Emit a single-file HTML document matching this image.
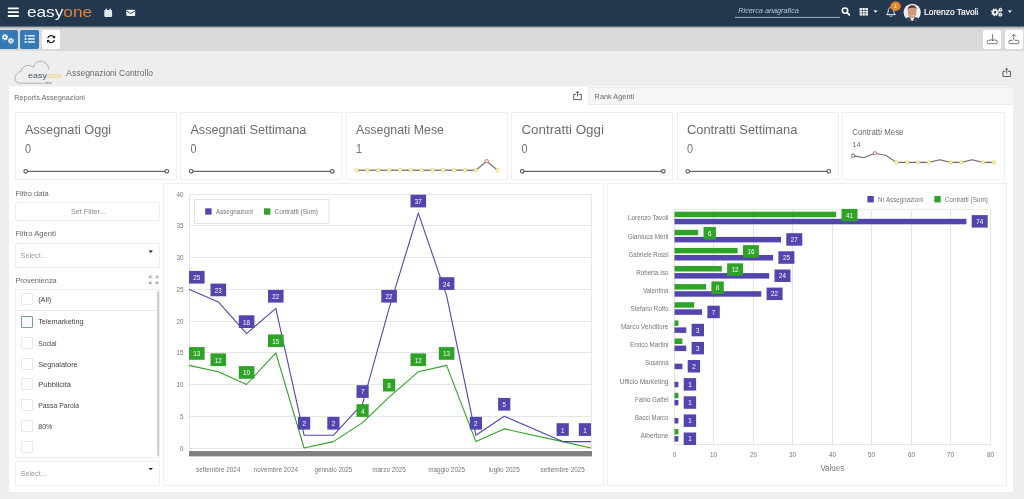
<!DOCTYPE html><html lang="it"><head><meta charset="utf-8"><title>easyone - Assegnazioni Controllo</title><style>
*{box-sizing:border-box;margin:0;padding:0}
html,body{width:1024px;height:499px;overflow:hidden;background:#eeeeee;font-family:"Liberation Sans",sans-serif;color:#666}
.abs{position:absolute}
#nav{position:absolute;left:0;top:0;width:1024px;height:29px;background:linear-gradient(#23384f 0,#23384f 26px,rgba(30,45,68,.55) 26.6px,rgba(30,45,68,.18) 27.6px,rgba(30,45,68,0) 28.8px);z-index:1}
#tool{position:absolute;left:0;top:26px;width:1024px;height:24.5px;background:#dadada}
.tb{position:absolute;top:30px;height:18.5px;border-radius:2px}
#panel{position:absolute;left:9px;top:87px;width:1004px;height:405px;background:#fff}
.card{position:absolute;background:#fff;border:1px solid #efefef}
.box{position:absolute;border:1px solid #ededed;border-radius:2px;background:#fff}
.cb{position:absolute;left:21px;width:12px;height:12px;border:1px solid #e8e8e8;border-radius:1px;background:#fff}
svg{overflow:visible}
svg text{font-family:"Liberation Sans",sans-serif;white-space:pre}
#ov{position:absolute;z-index:2;left:0;top:0;width:1024px;height:499px;pointer-events:none}
</style></head><body>
<div id="nav"></div>
<div id="tool"></div>
<div class="tb" style="left:0;width:17.5px;background:#337ab7;border-radius:0 2px 2px 0"></div>
<div class="tb" style="left:20px;width:19px;background:#337ab7"></div>
<div class="tb" style="left:42px;width:18px;background:#fff"></div>
<div class="tb" style="left:983px;width:18.2px;background:#fff"></div>
<div class="tb" style="left:1004.6px;width:18px;background:#fff"></div>
<div id="panel"></div><div class="abs" style="left:9px;top:86px;width:1004px;height:1px;background:rgba(255,255,255,.45)"></div>
<div class="abs" style="left:588px;top:87px;width:425px;height:18px;background:#f6f6f6;border:1px solid #ececec;border-right:none"></div>
<div class="card" style="left:15px;top:112px;width:162px;height:68px"></div>
<div class="card" style="left:180px;top:112px;width:162px;height:68px"></div>
<div class="card" style="left:346px;top:112px;width:162px;height:68px"></div>
<div class="card" style="left:511px;top:112px;width:162px;height:68px"></div>
<div class="card" style="left:677px;top:112px;width:162px;height:68px"></div>
<div class="card" style="left:842px;top:112px;width:163px;height:68px"></div>
<div class="box" style="left:15px;top:202px;width:145px;height:19px"></div>
<div class="box" style="left:15px;top:243.2px;width:145px;height:24.4px"></div>
<div class="box" style="left:15px;top:289px;width:145px;height:169px;border-radius:1px"></div>
<div class="abs" style="left:16px;top:309.6px;width:143px;height:1px;background:#e8e8e8"></div>
<div class="abs" style="left:156.6px;top:290.5px;width:2.2px;height:165px;background:#d0d0d0;border-radius:1px"></div>
<div class="cb" style="top:293.4px"></div>
<div class="cb" style="top:315.7px;border-color:#7d9aa3;background:#f6fafb"></div>
<div class="cb" style="top:336.9px"></div>
<div class="cb" style="top:357.9px"></div>
<div class="cb" style="top:378.4px"></div>
<div class="cb" style="top:399.4px"></div>
<div class="cb" style="top:420.4px"></div>
<div class="cb" style="top:441px"></div>
<div class="box" style="left:15px;top:461px;width:145px;height:25px;border-radius:1px"></div>
<div class="card" style="left:163px;top:183px;width:441px;height:303px"></div>
<div class="card" style="left:607px;top:183px;width:400px;height:303px"></div>
<svg id="ov" width="1024" height="499" viewBox="0 0 1024 499"><g fill="#fff"><rect x="7.8" y="7.4" width="11" height="1.8" rx="0.5"/><rect x="7.8" y="11.3" width="11" height="1.8" rx="0.5"/><rect x="7.8" y="15.1" width="11" height="1.8" rx="0.5"/></g>
<text x="26.9" y="16.5" font-size="14.8" fill="#f4f6f8" textLength="65.3" lengthAdjust="spacingAndGlyphs">easy<tspan fill="#e0813a">one</tspan></text>
<g fill="#dfeaec"><rect x="104.3" y="10" width="7.8" height="6.9" rx="0.8"/><rect x="105.6" y="8.6" width="1.4" height="2.2" rx="0.4"/><rect x="109.4" y="8.6" width="1.4" height="2.2" rx="0.4"/></g>
<rect x="126.3" y="9.7" width="8.9" height="6.2" rx="0.8" fill="#f2f5f7"/><path d="M126.5 10.9 L130.75 13.6 L135 10.9" stroke="#22384f" stroke-width="0.9" fill="none"/>
<rect x="735" y="16.9" width="105" height="0.9" fill="#a9b8c6"/>
<text x="738.30" y="12.90" font-size="7.8" fill="#b9c6d2" font-style="italic" textLength="60.50" lengthAdjust="spacingAndGlyphs">Ricerca anagrafica</text>
<circle cx="845" cy="10.6" r="2.7" stroke="#fff" stroke-width="1.5" fill="none"/><path d="M847.1 12.7 L849.3 14.9" stroke="#fff" stroke-width="1.8" stroke-linecap="round"/>
<rect x="859.6" y="8" width="8.4" height="7.5" rx="0.5" fill="#fff"/><path d="M862.4 8V15.5M865.2 8V15.5M859.6 10.5H868M859.6 13H868" stroke="#22384f" stroke-width="0.6"/>
<path d="M873.5 10.6H877.7L875.6 12.7Z" fill="#fff"/>
<path d="M891 7.6 C889 7.6 888.2 9.1 888.2 10.9 C888.2 12.9 887.5 13.8 886.6 14.6 H895.4 C894.5 13.8 893.8 12.9 893.8 10.9 C893.8 9.1 893 7.6 891 7.6Z" stroke="#fff" stroke-width="0.9" fill="none" stroke-linejoin="round"/><path d="M890 15.7 C890.2 16.7 891.8 16.7 892 15.7" stroke="#fff" stroke-width="0.9" fill="none"/>
<ellipse cx="895.6" cy="6.2" rx="5.2" ry="4.7" fill="#e8862e"/>
<text x="895.40" y="8.40" font-size="6.2" fill="#fbe9d6" text-anchor="middle">1</text>
<defs><clipPath id="av"><circle cx="912.2" cy="12.3" r="8.6"/></clipPath></defs><circle cx="912.2" cy="12.3" r="8.6" fill="#f1eff2"/><g clip-path="url(#av)"><path d="M903 22 V19.6 C905 18.2 907.4 17.6 909 17.2 H915.4 C917 17.6 919.4 18.2 921.4 19.6 V22Z" fill="#2e3442"/><path d="M909.6 17.4 L912.2 21.5 L914.8 17.4Z" fill="#f4f4f6"/><ellipse cx="912.1" cy="12.4" rx="4.3" ry="5.9" fill="#cf9a7e"/><path d="M907.7 11.2 C906.8 3.4 917.6 3.4 916.6 11.2 C916.2 8.4 915.4 7.8 912.2 7.8 C909 7.8 908.2 8.4 907.7 11.2Z" fill="#58342a"/><path d="M910.4 15.6 Q912.2 16.6 914 15.6" stroke="#f0e6df" stroke-width="0.7" fill="none"/></g>
<text x="924.10" y="15.40" font-size="9.0" fill="#fff" textLength="54.30" lengthAdjust="spacingAndGlyphs" stroke="#fff" stroke-width="0.2">Lorenzo Tavoli</text>
<g stroke="#fff" fill="none"><circle cx="995" cy="12.3" r="2.1" stroke-width="1.6"/><circle cx="995" cy="12.3" r="3.2" stroke-width="1.3" stroke-dasharray="1.45 1.06"/><circle cx="1000.4" cy="9.9" r="1.1" stroke-width="1.1"/><circle cx="1000.4" cy="9.9" r="1.8" stroke-width="0.8" stroke-dasharray="0.8 0.61"/><circle cx="1000.4" cy="14.7" r="1.1" stroke-width="1.1"/><circle cx="1000.4" cy="14.7" r="1.8" stroke-width="0.8" stroke-dasharray="0.8 0.61"/></g>
<path d="M1007.8 10.6H1012L1009.9 12.7Z" fill="#fff"/>
<g stroke="#fff" fill="none"><circle cx="5" cy="37.2" r="1.6" stroke-width="1.4"/><circle cx="5" cy="37.2" r="2.6" stroke-width="1.1" stroke-dasharray="1.16 0.88"/><circle cx="10.9" cy="40.8" r="1.5" stroke-width="1.3"/><circle cx="10.9" cy="40.8" r="2.45" stroke-width="1.1" stroke-dasharray="1.1 0.82"/></g>
<g fill="#fff"><rect x="24.7" y="34.9" width="1.8" height="1.8"/><rect x="27.8" y="35.1" width="7" height="1.4"/><rect x="24.7" y="38" width="1.8" height="1.8"/><rect x="27.8" y="38.2" width="7" height="1.4"/><rect x="24.7" y="41.1" width="1.8" height="1.8"/><rect x="27.8" y="41.3" width="7" height="1.4"/></g>
<g transform="translate(46.6,34.6)"><path d="M1.2 3.6 A3.4 3.4 0 0 1 7.4 2.6" stroke="#222" stroke-width="1.3" fill="none"/><path d="M7.8 5.4 A3.4 3.4 0 0 1 1.6 6.4" stroke="#222" stroke-width="1.3" fill="none"/><path d="M8.6 0.6 V3.6 H5.6Z" fill="#222"/><path d="M0.4 8.4 V5.4 H3.4Z" fill="#222"/></g>
<g stroke="#555" stroke-width="0.8" fill="none"><path d="M992.6 34.1V41M990.4 38.8L992.6 41L994.8 38.8"/><path d="M990.6 40.3H988.4Q987.3 40.3 987.3 41.4V42.6Q987.3 43.7 988.4 43.7H996.2Q997.3 43.7 997.3 42.6V41.4Q997.3 40.3 996.2 40.3H994.6"/></g>
<g stroke="#555" stroke-width="0.8" fill="none"><path d="M1013.8 40.4V34.2M1011.6 36.4L1013.8 34.2L1016 36.4"/><path d="M1012.6 40.3H1010Q1008.9 40.3 1008.9 41.4V42.6Q1008.9 43.7 1010 43.7H1017.7Q1018.8 43.7 1018.8 42.6V41.4Q1018.8 40.3 1017.7 40.3H1015"/></g>
<path d="M20.2 83.2 C15 83.2 14 78.6 15.8 75.4 C17 73.2 18.8 71.6 21 71.4 C21.4 68.2 25.6 64.6 29.6 65.6 C31.4 65.9 32.6 66.4 33.6 67.2 C34.2 62.8 38.8 60.6 42.2 61.4 C46.2 62.2 48.8 65.6 48.6 69.2" stroke="#9a9ea4" stroke-width="0.8" fill="none"/><path d="M20.2 83.2 H42.8" stroke="#9a9ea4" stroke-width="0.8"/>
<text x="28" y="77.5" font-size="7.6" fill="#42566b" textLength="34" lengthAdjust="spacingAndGlyphs">easy<tspan fill="#f3d46a">one</tspan></text>
<text x="44.60" y="83.80" font-size="3.2" fill="#666" textLength="7.20" lengthAdjust="spacingAndGlyphs">one</text>
<text x="66.30" y="76.00" font-size="9.3" fill="#6a6a6a" textLength="86.70" lengthAdjust="spacingAndGlyphs">Assegnazioni Controllo</text>
<g stroke="#555" stroke-width="0.95" fill="none" transform="translate(1002.4,67.9)"><path d="M3 3.4H0.5V8.6H8.1V3.4H5.6"/><path d="M4.3 5.6V0.4M2.9 1.8L4.3 0.4L5.7 1.8"/></g>
<text x="14.20" y="99.50" font-size="7.7" fill="#6a6a6a" textLength="70.70" lengthAdjust="spacingAndGlyphs">Reports Assegnazioni</text>
<g stroke="#555" stroke-width="0.95" fill="none" transform="translate(573.2,91)"><path d="M3 3.4H0.5V8.6H8.1V3.4H5.6"/><path d="M4.3 5.6V0.4M2.9 1.8L4.3 0.4L5.7 1.8"/></g>
<text x="594.60" y="98.90" font-size="7.7" fill="#6a6a6a" textLength="39.60" lengthAdjust="spacingAndGlyphs">Rank Agenti</text>
<text x="24.90" y="134.00" font-size="13.6" fill="#6c6c6c" textLength="86.30" lengthAdjust="spacingAndGlyphs">Assegnati Oggi</text>
<text x="25.00" y="152.90" font-size="12.2" fill="#727272" textLength="6.00" lengthAdjust="spacingAndGlyphs">0</text>
<path d="M25.7 171.3H166.8" stroke="#686868" stroke-width="1.2"/><circle cx="25.7" cy="171.3" r="1.8" fill="#fff" stroke="#555" stroke-width="1.1"/><circle cx="166.8" cy="171.3" r="1.8" fill="#fff" stroke="#555" stroke-width="1.1"/>
<text x="190.40" y="134.00" font-size="13.6" fill="#6c6c6c" textLength="116.00" lengthAdjust="spacingAndGlyphs">Assegnati Settimana</text>
<text x="190.50" y="152.90" font-size="12.2" fill="#727272" textLength="6.00" lengthAdjust="spacingAndGlyphs">0</text>
<path d="M191.2 171.3H332.3" stroke="#686868" stroke-width="1.2"/><circle cx="191.2" cy="171.3" r="1.8" fill="#fff" stroke="#555" stroke-width="1.1"/><circle cx="332.3" cy="171.3" r="1.8" fill="#fff" stroke="#555" stroke-width="1.1"/>
<text x="355.90" y="134.00" font-size="13.6" fill="#6c6c6c" textLength="88.10" lengthAdjust="spacingAndGlyphs">Assegnati Mese</text>
<text x="356.00" y="152.90" font-size="12.2" fill="#727272" textLength="6.00" lengthAdjust="spacingAndGlyphs">1</text>
<path d="M356.6 170.2 L367.4 170.2 L378.3 170.2 L389.1 170.2 L400.0 170.2 L410.8 170.2 L421.6 170.2 L432.5 170.2 L443.3 170.2 L454.2 170.2 L465.0 170.2 L475.8 170.2 L486.7 161.2 L497.5 170.2" stroke="#858585" stroke-width="1.4" fill="none"/><circle cx="356.6" cy="170.2" r="1.7" fill="#fffbe8" stroke="#e6c84f" stroke-width="0.8"/><circle cx="367.4" cy="170.2" r="1.7" fill="#fffbe8" stroke="#e6c84f" stroke-width="0.8"/><circle cx="378.3" cy="170.2" r="1.7" fill="#fffbe8" stroke="#e6c84f" stroke-width="0.8"/><circle cx="389.1" cy="170.2" r="1.7" fill="#fffbe8" stroke="#e6c84f" stroke-width="0.8"/><circle cx="400.0" cy="170.2" r="1.7" fill="#fffbe8" stroke="#e6c84f" stroke-width="0.8"/><circle cx="410.8" cy="170.2" r="1.7" fill="#fffbe8" stroke="#e6c84f" stroke-width="0.8"/><circle cx="421.6" cy="170.2" r="1.7" fill="#fffbe8" stroke="#e6c84f" stroke-width="0.8"/><circle cx="432.5" cy="170.2" r="1.7" fill="#fffbe8" stroke="#e6c84f" stroke-width="0.8"/><circle cx="443.3" cy="170.2" r="1.7" fill="#fffbe8" stroke="#e6c84f" stroke-width="0.8"/><circle cx="454.2" cy="170.2" r="1.7" fill="#fffbe8" stroke="#e6c84f" stroke-width="0.8"/><circle cx="465.0" cy="170.2" r="1.7" fill="#fffbe8" stroke="#e6c84f" stroke-width="0.8"/><circle cx="475.8" cy="170.2" r="1.7" fill="#fffbe8" stroke="#e6c84f" stroke-width="0.8"/><circle cx="486.7" cy="161.2" r="1.7" fill="#fffbe8" stroke="#d9534f" stroke-width="0.8"/><circle cx="497.5" cy="170.2" r="1.7" fill="#fffbe8" stroke="#e6c84f" stroke-width="0.8"/>
<text x="521.40" y="134.00" font-size="13.6" fill="#6c6c6c" textLength="82.50" lengthAdjust="spacingAndGlyphs">Contratti Oggi</text>
<text x="521.50" y="152.90" font-size="12.2" fill="#727272" textLength="6.00" lengthAdjust="spacingAndGlyphs">0</text>
<path d="M522.2 171.3H663.3" stroke="#686868" stroke-width="1.2"/><circle cx="522.2" cy="171.3" r="1.8" fill="#fff" stroke="#555" stroke-width="1.1"/><circle cx="663.3" cy="171.3" r="1.8" fill="#fff" stroke="#555" stroke-width="1.1"/>
<text x="686.90" y="134.00" font-size="13.6" fill="#6c6c6c" textLength="110.50" lengthAdjust="spacingAndGlyphs">Contratti Settimana</text>
<text x="687.00" y="152.90" font-size="12.2" fill="#727272" textLength="6.00" lengthAdjust="spacingAndGlyphs">0</text>
<path d="M687.7 171.3H828.8" stroke="#686868" stroke-width="1.2"/><circle cx="687.7" cy="171.3" r="1.8" fill="#fff" stroke="#555" stroke-width="1.1"/><circle cx="828.8" cy="171.3" r="1.8" fill="#fff" stroke="#555" stroke-width="1.1"/>
<text x="852.20" y="135.40" font-size="8.5" fill="#6a6a6a" textLength="51.30" lengthAdjust="spacingAndGlyphs">Contratti Mese</text>
<text x="852.40" y="146.90" font-size="7.8" fill="#6a6a6a" textLength="8.00" lengthAdjust="spacingAndGlyphs">14</text>
<path d="M853.1 155.6 L863.9 157.8 L874.8 153.2 L885.6 155.2 L896.4 162.4 L907.2 162.4 L918.1 162.4 L928.9 162.4 L939.7 159.7 L950.6 162.4 L961.4 162.4 L972.2 159.7 L983.1 162.4 L993.9 162.4" stroke="#6c6c6c" stroke-width="1.1" fill="none" stroke-linejoin="round"/><circle cx="853.1" cy="155.6" r="1.7" fill="#fff" stroke="#444" stroke-width="0.8"/><circle cx="874.8" cy="153.2" r="1.7" fill="#fff" stroke="#d9534f" stroke-width="0.8"/><circle cx="896.4" cy="162.4" r="1.7" fill="#fffbe8" stroke="#e6c84f" stroke-width="0.8"/><circle cx="907.2" cy="162.4" r="1.7" fill="#fffbe8" stroke="#e6c84f" stroke-width="0.8"/><circle cx="918.1" cy="162.4" r="1.7" fill="#fffbe8" stroke="#e6c84f" stroke-width="0.8"/><circle cx="928.9" cy="162.4" r="1.7" fill="#fffbe8" stroke="#e6c84f" stroke-width="0.8"/><circle cx="950.6" cy="162.4" r="1.7" fill="#fffbe8" stroke="#e6c84f" stroke-width="0.8"/><circle cx="961.4" cy="162.4" r="1.7" fill="#fffbe8" stroke="#e6c84f" stroke-width="0.8"/><circle cx="983.1" cy="162.4" r="1.7" fill="#fffbe8" stroke="#e6c84f" stroke-width="0.8"/><circle cx="993.9" cy="162.4" r="1.7" fill="#fffbe8" stroke="#e6c84f" stroke-width="0.8"/>
<text x="15.40" y="195.80" font-size="8.0" fill="#666" textLength="33.30" lengthAdjust="spacingAndGlyphs">Filtro data</text>
<text x="70.90" y="214.00" font-size="7.8" fill="#8a8a8a" textLength="34.70" lengthAdjust="spacingAndGlyphs">Set Filter...</text>
<text x="15.40" y="235.90" font-size="8.0" fill="#666" textLength="40.50" lengthAdjust="spacingAndGlyphs">Filtro Agenti</text>
<text x="20.60" y="258.00" font-size="7.8" fill="#9a9a9a" textLength="26.21" lengthAdjust="spacingAndGlyphs">Select...</text>
<path d="M148.5 250.5H152.9L150.7 252.9Z" fill="#222"/>
<text x="15.40" y="282.60" font-size="8.0" fill="#666" textLength="41.36" lengthAdjust="spacingAndGlyphs">Provenienza</text>
<g stroke="#8a8a8a" stroke-width="0.8" fill="none"><path d="M149.6 278.2V276.1H151.7M149.8 276.3L152 278.5"/><path d="M155.7 276.1H157.8V278.2M157.6 276.3L155.4 278.5"/><path d="M157.8 281.4V283.5H155.7M157.6 283.3L155.4 281.1"/><path d="M151.7 283.5H149.6V281.4M149.8 283.3L152 281.1"/></g>
<text x="38.20" y="302.10" font-size="8.0" fill="#444" textLength="13.00" lengthAdjust="spacingAndGlyphs">(All)</text>
<text x="38.20" y="324.40" font-size="8.0" fill="#444" textLength="45.40" lengthAdjust="spacingAndGlyphs">Telemarketing</text>
<text x="38.20" y="345.60" font-size="8.0" fill="#444" textLength="18.40" lengthAdjust="spacingAndGlyphs">Social</text>
<text x="38.20" y="366.60" font-size="8.0" fill="#444" textLength="39.50" lengthAdjust="spacingAndGlyphs">Segnalatore</text>
<text x="38.20" y="387.10" font-size="8.0" fill="#444" textLength="32.90" lengthAdjust="spacingAndGlyphs">Pubblicità</text>
<text x="38.20" y="408.10" font-size="8.0" fill="#444" textLength="41.00" lengthAdjust="spacingAndGlyphs">Passa Parola</text>
<text x="38.20" y="429.10" font-size="8.0" fill="#444" textLength="14.20" lengthAdjust="spacingAndGlyphs">80%</text>
<text x="20.60" y="475.50" font-size="7.8" fill="#9a9a9a" textLength="26.21" lengthAdjust="spacingAndGlyphs">Select...</text>
<path d="M148.5 467.9H152.9L150.7 470.3Z" fill="#222"/>
<path d="M189.0 448.5H592.0" stroke="#e6e6e6" stroke-width="1"/><text x="183.40" y="451.10" font-size="7.4" fill="#767676" text-anchor="end" textLength="3.50" lengthAdjust="spacingAndGlyphs">0</text><path d="M189.0 416.5H592.0" stroke="#e6e6e6" stroke-width="1"/><text x="183.40" y="419.10" font-size="7.4" fill="#767676" text-anchor="end" textLength="3.50" lengthAdjust="spacingAndGlyphs">5</text><path d="M189.0 384.5H592.0" stroke="#e6e6e6" stroke-width="1"/><text x="183.40" y="387.10" font-size="7.4" fill="#767676" text-anchor="end" textLength="7.00" lengthAdjust="spacingAndGlyphs">10</text><path d="M189.0 352.5H592.0" stroke="#e6e6e6" stroke-width="1"/><text x="183.40" y="355.10" font-size="7.4" fill="#767676" text-anchor="end" textLength="7.00" lengthAdjust="spacingAndGlyphs">15</text><path d="M189.0 321.5H592.0" stroke="#e6e6e6" stroke-width="1"/><text x="183.40" y="324.10" font-size="7.4" fill="#767676" text-anchor="end" textLength="7.00" lengthAdjust="spacingAndGlyphs">20</text><path d="M189.0 289.5H592.0" stroke="#e6e6e6" stroke-width="1"/><text x="183.40" y="292.10" font-size="7.4" fill="#767676" text-anchor="end" textLength="7.00" lengthAdjust="spacingAndGlyphs">25</text><path d="M189.0 257.5H592.0" stroke="#e6e6e6" stroke-width="1"/><text x="183.40" y="260.10" font-size="7.4" fill="#767676" text-anchor="end" textLength="7.00" lengthAdjust="spacingAndGlyphs">30</text><path d="M189.0 225.5H592.0" stroke="#e6e6e6" stroke-width="1"/><text x="183.40" y="228.10" font-size="7.4" fill="#767676" text-anchor="end" textLength="7.00" lengthAdjust="spacingAndGlyphs">35</text><path d="M189.0 194.5H592.0" stroke="#e6e6e6" stroke-width="1"/><text x="183.40" y="197.10" font-size="7.4" fill="#767676" text-anchor="end" textLength="7.00" lengthAdjust="spacingAndGlyphs">40</text><path d="M189.5 194.0V449.0M591.5 194.0V449.0" stroke="#e6e6e6" stroke-width="1"/><path d="M189.0 458.5H592.0" stroke="#f0f0f0" stroke-width="1"/><rect x="194.5" y="199.5" width="134.5" height="24" fill="#fff" stroke="#e4e4e4" stroke-width="1"/><rect x="205.2" y="208.3" width="6.4" height="6.4" fill="#5345ae"/><text x="216.00" y="214.30" font-size="7.4" fill="#767676" textLength="37.00" lengthAdjust="spacingAndGlyphs">Assegnazioni</text><rect x="264" y="208.3" width="6.4" height="6.4" fill="#2fa327"/><text x="274.60" y="214.30" font-size="7.4" fill="#767676" textLength="43.40" lengthAdjust="spacingAndGlyphs">Contratti (Sum)</text><path d="M189.0 365.4L218.3 371.8L246.6 384.5L275.8 352.8L304.1 448.0L333.4 441.6L362.6 422.6L389.1 397.2L418.3 371.8L446.6 365.4L475.9 441.6L504.2 428.9L562.7 441.6L591.0 448.0" stroke="#2fa327" stroke-width="1.1" fill="none" stroke-linejoin="round"/><path d="M189.0 289.2L218.3 301.9L246.6 333.7L275.8 308.3L304.1 435.3L333.4 435.3L362.6 403.6L389.1 308.3L418.3 213.1L446.6 295.6L475.9 435.3L504.2 416.2L562.7 441.6L591.0 441.6" stroke="#5345ae" stroke-width="1.1" fill="none" stroke-linejoin="round"/><rect x="189.0" y="347.1" width="15.6" height="12.7" fill="#2fa327"/><text x="196.80" y="356.35" font-size="7.4" fill="#fff" text-anchor="middle" textLength="7.00" lengthAdjust="spacingAndGlyphs">13</text><rect x="210.5" y="353.4" width="15.6" height="12.7" fill="#2fa327"/><text x="218.25" y="362.70" font-size="7.4" fill="#fff" text-anchor="middle" textLength="7.00" lengthAdjust="spacingAndGlyphs">12</text><rect x="238.8" y="366.1" width="15.6" height="12.7" fill="#2fa327"/><text x="246.56" y="375.40" font-size="7.4" fill="#fff" text-anchor="middle" textLength="7.00" lengthAdjust="spacingAndGlyphs">10</text><rect x="268.0" y="334.4" width="15.6" height="12.7" fill="#2fa327"/><text x="275.82" y="343.65" font-size="7.4" fill="#fff" text-anchor="middle" textLength="7.00" lengthAdjust="spacingAndGlyphs">15</text><rect x="356.5" y="404.2" width="12.2" height="12.7" fill="#2fa327"/><text x="362.63" y="413.50" font-size="7.4" fill="#fff" text-anchor="middle" textLength="3.50" lengthAdjust="spacingAndGlyphs">4</text><rect x="383.0" y="378.8" width="12.2" height="12.7" fill="#2fa327"/><text x="389.06" y="388.10" font-size="7.4" fill="#fff" text-anchor="middle" textLength="3.50" lengthAdjust="spacingAndGlyphs">8</text><rect x="410.5" y="353.4" width="15.6" height="12.7" fill="#2fa327"/><text x="418.31" y="362.70" font-size="7.4" fill="#fff" text-anchor="middle" textLength="7.00" lengthAdjust="spacingAndGlyphs">12</text><rect x="438.8" y="347.1" width="15.6" height="12.7" fill="#2fa327"/><text x="446.62" y="356.35" font-size="7.4" fill="#fff" text-anchor="middle" textLength="7.00" lengthAdjust="spacingAndGlyphs">13</text><rect x="189.0" y="270.9" width="15.6" height="12.7" fill="#5345ae"/><text x="196.80" y="280.15" font-size="7.4" fill="#fff" text-anchor="middle" textLength="7.00" lengthAdjust="spacingAndGlyphs">25</text><rect x="210.5" y="283.6" width="15.6" height="12.7" fill="#5345ae"/><text x="218.25" y="292.85" font-size="7.4" fill="#fff" text-anchor="middle" textLength="7.00" lengthAdjust="spacingAndGlyphs">23</text><rect x="238.8" y="315.3" width="15.6" height="12.7" fill="#5345ae"/><text x="246.56" y="324.60" font-size="7.4" fill="#fff" text-anchor="middle" textLength="7.00" lengthAdjust="spacingAndGlyphs">18</text><rect x="268.0" y="289.9" width="15.6" height="12.7" fill="#5345ae"/><text x="275.82" y="299.20" font-size="7.4" fill="#fff" text-anchor="middle" textLength="7.00" lengthAdjust="spacingAndGlyphs">22</text><rect x="298.0" y="416.9" width="12.2" height="12.7" fill="#5345ae"/><text x="304.13" y="426.20" font-size="7.4" fill="#fff" text-anchor="middle" textLength="3.50" lengthAdjust="spacingAndGlyphs">2</text><rect x="327.3" y="416.9" width="12.2" height="12.7" fill="#5345ae"/><text x="333.38" y="426.20" font-size="7.4" fill="#fff" text-anchor="middle" textLength="3.50" lengthAdjust="spacingAndGlyphs">2</text><rect x="356.5" y="385.2" width="12.2" height="12.7" fill="#5345ae"/><text x="362.63" y="394.45" font-size="7.4" fill="#fff" text-anchor="middle" textLength="3.50" lengthAdjust="spacingAndGlyphs">7</text><rect x="381.3" y="289.9" width="15.6" height="12.7" fill="#5345ae"/><text x="389.06" y="299.20" font-size="7.4" fill="#fff" text-anchor="middle" textLength="7.00" lengthAdjust="spacingAndGlyphs">22</text><rect x="410.5" y="194.7" width="15.6" height="12.7" fill="#5345ae"/><text x="418.31" y="203.95" font-size="7.4" fill="#fff" text-anchor="middle" textLength="7.00" lengthAdjust="spacingAndGlyphs">37</text><rect x="438.8" y="277.2" width="15.6" height="12.7" fill="#5345ae"/><text x="446.62" y="286.50" font-size="7.4" fill="#fff" text-anchor="middle" textLength="7.00" lengthAdjust="spacingAndGlyphs">24</text><rect x="469.8" y="416.9" width="12.2" height="12.7" fill="#5345ae"/><text x="475.87" y="426.20" font-size="7.4" fill="#fff" text-anchor="middle" textLength="3.50" lengthAdjust="spacingAndGlyphs">2</text><rect x="498.1" y="397.9" width="12.2" height="12.7" fill="#5345ae"/><text x="504.18" y="407.15" font-size="7.4" fill="#fff" text-anchor="middle" textLength="3.50" lengthAdjust="spacingAndGlyphs">5</text><rect x="556.6" y="423.2" width="12.2" height="12.7" fill="#5345ae"/><text x="562.69" y="432.55" font-size="7.4" fill="#fff" text-anchor="middle" textLength="3.50" lengthAdjust="spacingAndGlyphs">1</text><rect x="578.8" y="423.2" width="12.2" height="12.7" fill="#5345ae"/><text x="584.90" y="432.55" font-size="7.4" fill="#fff" text-anchor="middle" textLength="3.50" lengthAdjust="spacingAndGlyphs">1</text><rect x="189.0" y="451" width="403.0" height="5.4" fill="#808080"/><text x="218.25" y="472.00" font-size="7.4" fill="#767676" text-anchor="middle" textLength="44.40" lengthAdjust="spacingAndGlyphs">settembre 2024</text><text x="275.82" y="472.00" font-size="7.4" fill="#767676" text-anchor="middle" textLength="44.40" lengthAdjust="spacingAndGlyphs">novembre 2024</text><text x="333.38" y="472.00" font-size="7.4" fill="#767676" text-anchor="middle" textLength="37.90" lengthAdjust="spacingAndGlyphs">gennaio 2025</text><text x="389.06" y="472.00" font-size="7.4" fill="#767676" text-anchor="middle" textLength="33.50" lengthAdjust="spacingAndGlyphs">marzo 2025</text><text x="446.62" y="472.00" font-size="7.4" fill="#767676" text-anchor="middle" textLength="36.90" lengthAdjust="spacingAndGlyphs">maggio 2025</text><text x="504.18" y="472.00" font-size="7.4" fill="#767676" text-anchor="middle" textLength="31.10" lengthAdjust="spacingAndGlyphs">luglio 2025</text><text x="562.69" y="472.00" font-size="7.4" fill="#767676" text-anchor="middle" textLength="44.30" lengthAdjust="spacingAndGlyphs">settembre 2025</text>
<path d="M674.5 209.0V444.5" stroke="#e4e4e4" stroke-width="1"/><text x="674.50" y="456.80" font-size="7.4" fill="#767676" text-anchor="middle" textLength="3.50" lengthAdjust="spacingAndGlyphs">0</text><path d="M713.5 209.0V444.5" stroke="#e4e4e4" stroke-width="1"/><text x="713.50" y="456.80" font-size="7.4" fill="#767676" text-anchor="middle" textLength="7.00" lengthAdjust="spacingAndGlyphs">10</text><path d="M753.5 209.0V444.5" stroke="#e4e4e4" stroke-width="1"/><text x="753.50" y="456.80" font-size="7.4" fill="#767676" text-anchor="middle" textLength="7.00" lengthAdjust="spacingAndGlyphs">20</text><path d="M792.5 209.0V444.5" stroke="#e4e4e4" stroke-width="1"/><text x="792.50" y="456.80" font-size="7.4" fill="#767676" text-anchor="middle" textLength="7.00" lengthAdjust="spacingAndGlyphs">30</text><path d="M832.5 209.0V444.5" stroke="#e4e4e4" stroke-width="1"/><text x="832.50" y="456.80" font-size="7.4" fill="#767676" text-anchor="middle" textLength="7.00" lengthAdjust="spacingAndGlyphs">40</text><path d="M871.5 209.0V444.5" stroke="#e4e4e4" stroke-width="1"/><text x="871.50" y="456.80" font-size="7.4" fill="#767676" text-anchor="middle" textLength="7.00" lengthAdjust="spacingAndGlyphs">50</text><path d="M911.5 209.0V444.5" stroke="#e4e4e4" stroke-width="1"/><text x="911.50" y="456.80" font-size="7.4" fill="#767676" text-anchor="middle" textLength="7.00" lengthAdjust="spacingAndGlyphs">60</text><path d="M950.5 209.0V444.5" stroke="#e4e4e4" stroke-width="1"/><text x="950.50" y="456.80" font-size="7.4" fill="#767676" text-anchor="middle" textLength="7.00" lengthAdjust="spacingAndGlyphs">70</text><path d="M990.5 209.0V444.5" stroke="#e4e4e4" stroke-width="1"/><text x="990.50" y="456.80" font-size="7.4" fill="#767676" text-anchor="middle" textLength="7.00" lengthAdjust="spacingAndGlyphs">80</text><path d="M674.5 209.5H990.1" stroke="#ececec" stroke-width="1"/><path d="M674.5 444.5H990.1" stroke="#e4e4e4" stroke-width="1"/><text x="832.30" y="471.00" font-size="9.0" fill="#767676" text-anchor="middle" textLength="23.80" lengthAdjust="spacingAndGlyphs">Values</text><rect x="867.4" y="196" width="6.4" height="6.4" fill="#5345ae"/><text x="878.00" y="202.00" font-size="7.4" fill="#767676" textLength="45.00" lengthAdjust="spacingAndGlyphs">Nr Assegnazioni</text><rect x="934.3" y="196" width="6.4" height="6.4" fill="#2fa327"/><text x="944.70" y="202.00" font-size="7.4" fill="#767676" textLength="43.20" lengthAdjust="spacingAndGlyphs">Contratti (Sum)</text><text x="668.50" y="220.46" font-size="7.4" fill="#767676" text-anchor="end" textLength="40.40" lengthAdjust="spacingAndGlyphs">Lorenzo Tavoli</text><rect x="674.5" y="211.7" width="161.7" height="5.5" fill="#2fa327"/><rect x="674.5" y="218.8" width="291.9" height="5.5" fill="#5345ae"/><text x="668.50" y="238.57" font-size="7.4" fill="#767676" text-anchor="end" textLength="40.80" lengthAdjust="spacingAndGlyphs">Gianluca Merli</text><rect x="674.5" y="229.8" width="23.7" height="5.5" fill="#2fa327"/><rect x="674.5" y="236.9" width="106.5" height="5.5" fill="#5345ae"/><text x="668.50" y="256.69" font-size="7.4" fill="#767676" text-anchor="end" textLength="40.00" lengthAdjust="spacingAndGlyphs">Gabriele Rossi</text><rect x="674.5" y="247.9" width="63.1" height="5.5" fill="#2fa327"/><rect x="674.5" y="255.0" width="98.6" height="5.5" fill="#5345ae"/><text x="668.50" y="274.80" font-size="7.4" fill="#767676" text-anchor="end" textLength="32.30" lengthAdjust="spacingAndGlyphs">Roberta Iso</text><rect x="674.5" y="266.0" width="47.3" height="5.5" fill="#2fa327"/><rect x="674.5" y="273.1" width="94.7" height="5.5" fill="#5345ae"/><text x="668.50" y="292.92" font-size="7.4" fill="#767676" text-anchor="end" textLength="25.60" lengthAdjust="spacingAndGlyphs">Valentina</text><rect x="674.5" y="284.1" width="31.6" height="5.5" fill="#2fa327"/><rect x="674.5" y="291.2" width="86.8" height="5.5" fill="#5345ae"/><text x="668.50" y="311.03" font-size="7.4" fill="#767676" text-anchor="end" textLength="38.00" lengthAdjust="spacingAndGlyphs">Stefano Rolfo</text><rect x="674.5" y="302.2" width="19.7" height="5.5" fill="#2fa327"/><rect x="674.5" y="309.3" width="27.6" height="5.5" fill="#5345ae"/><text x="668.50" y="329.15" font-size="7.4" fill="#767676" text-anchor="end" textLength="47.60" lengthAdjust="spacingAndGlyphs">Marco Venditore</text><rect x="674.5" y="320.4" width="3.9" height="5.5" fill="#2fa327"/><rect x="674.5" y="327.4" width="11.8" height="5.5" fill="#5345ae"/><text x="668.50" y="347.27" font-size="7.4" fill="#767676" text-anchor="end" textLength="38.50" lengthAdjust="spacingAndGlyphs">Enrico Martini</text><rect x="674.5" y="338.5" width="7.9" height="5.5" fill="#2fa327"/><rect x="674.5" y="345.6" width="11.8" height="5.5" fill="#5345ae"/><text x="668.50" y="365.38" font-size="7.4" fill="#767676" text-anchor="end" textLength="23.60" lengthAdjust="spacingAndGlyphs">Susanna</text><rect x="674.5" y="363.7" width="7.9" height="5.5" fill="#5345ae"/><text x="668.50" y="383.50" font-size="7.4" fill="#767676" text-anchor="end" textLength="48.80" lengthAdjust="spacingAndGlyphs">Ufficio Marketing</text><rect x="674.5" y="381.8" width="3.9" height="5.5" fill="#5345ae"/><text x="668.50" y="401.61" font-size="7.4" fill="#767676" text-anchor="end" textLength="33.50" lengthAdjust="spacingAndGlyphs">Fabio Gattel</text><rect x="674.5" y="392.8" width="3.9" height="5.5" fill="#2fa327"/><rect x="674.5" y="399.9" width="3.9" height="5.5" fill="#5345ae"/><text x="668.50" y="419.73" font-size="7.4" fill="#767676" text-anchor="end" textLength="33.50" lengthAdjust="spacingAndGlyphs">Bacci Marco</text><rect x="674.5" y="418.0" width="3.9" height="5.5" fill="#5345ae"/><text x="668.50" y="437.84" font-size="7.4" fill="#767676" text-anchor="end" textLength="28.10" lengthAdjust="spacingAndGlyphs">Albertone</text><rect x="674.5" y="429.0" width="3.9" height="5.5" fill="#2fa327"/><rect x="674.5" y="436.1" width="3.9" height="5.5" fill="#5345ae"/><rect x="841.5" y="208.9" width="16" height="12.5" fill="#2fa327"/><text x="849.54" y="217.86" font-size="7.4" fill="#fff" text-anchor="middle" textLength="7.00" lengthAdjust="spacingAndGlyphs">41</text><rect x="971.7" y="215.1" width="16" height="12.5" fill="#5345ae"/><text x="979.73" y="223.96" font-size="7.4" fill="#fff" text-anchor="middle" textLength="7.00" lengthAdjust="spacingAndGlyphs">74</text><rect x="703.5" y="227.0" width="12.4" height="12.5" fill="#2fa327"/><text x="709.67" y="235.97" font-size="7.4" fill="#fff" text-anchor="middle" textLength="3.50" lengthAdjust="spacingAndGlyphs">6</text><rect x="786.3" y="233.2" width="16" height="12.5" fill="#5345ae"/><text x="794.31" y="242.07" font-size="7.4" fill="#fff" text-anchor="middle" textLength="7.00" lengthAdjust="spacingAndGlyphs">27</text><rect x="742.9" y="245.1" width="16" height="12.5" fill="#2fa327"/><text x="750.92" y="254.09" font-size="7.4" fill="#fff" text-anchor="middle" textLength="7.00" lengthAdjust="spacingAndGlyphs">16</text><rect x="778.4" y="251.3" width="16" height="12.5" fill="#5345ae"/><text x="786.42" y="260.19" font-size="7.4" fill="#fff" text-anchor="middle" textLength="7.00" lengthAdjust="spacingAndGlyphs">25</text><rect x="727.1" y="263.3" width="16" height="12.5" fill="#2fa327"/><text x="735.14" y="272.20" font-size="7.4" fill="#fff" text-anchor="middle" textLength="7.00" lengthAdjust="spacingAndGlyphs">12</text><rect x="774.5" y="269.5" width="16" height="12.5" fill="#5345ae"/><text x="782.48" y="278.30" font-size="7.4" fill="#fff" text-anchor="middle" textLength="7.00" lengthAdjust="spacingAndGlyphs">24</text><rect x="711.4" y="281.4" width="12.4" height="12.5" fill="#2fa327"/><text x="717.56" y="290.32" font-size="7.4" fill="#fff" text-anchor="middle" textLength="3.50" lengthAdjust="spacingAndGlyphs">8</text><rect x="766.6" y="287.6" width="16" height="12.5" fill="#5345ae"/><text x="774.59" y="296.42" font-size="7.4" fill="#fff" text-anchor="middle" textLength="7.00" lengthAdjust="spacingAndGlyphs">22</text><rect x="707.4" y="305.7" width="12.4" height="12.5" fill="#5345ae"/><text x="713.62" y="314.53" font-size="7.4" fill="#fff" text-anchor="middle" textLength="3.50" lengthAdjust="spacingAndGlyphs">7</text><rect x="691.6" y="323.8" width="12.4" height="12.5" fill="#5345ae"/><text x="697.84" y="332.65" font-size="7.4" fill="#fff" text-anchor="middle" textLength="3.50" lengthAdjust="spacingAndGlyphs">3</text><rect x="691.6" y="341.9" width="12.4" height="12.5" fill="#5345ae"/><text x="697.84" y="350.77" font-size="7.4" fill="#fff" text-anchor="middle" textLength="3.50" lengthAdjust="spacingAndGlyphs">3</text><rect x="687.7" y="360.0" width="12.4" height="12.5" fill="#5345ae"/><text x="693.89" y="368.88" font-size="7.4" fill="#fff" text-anchor="middle" textLength="3.50" lengthAdjust="spacingAndGlyphs">2</text><rect x="683.7" y="378.1" width="12.4" height="12.5" fill="#5345ae"/><text x="689.95" y="387.00" font-size="7.4" fill="#fff" text-anchor="middle" textLength="3.50" lengthAdjust="spacingAndGlyphs">1</text><rect x="683.7" y="396.3" width="12.4" height="12.5" fill="#5345ae"/><text x="689.95" y="405.11" font-size="7.4" fill="#fff" text-anchor="middle" textLength="3.50" lengthAdjust="spacingAndGlyphs">1</text><rect x="683.7" y="414.4" width="12.4" height="12.5" fill="#5345ae"/><text x="689.95" y="423.23" font-size="7.4" fill="#fff" text-anchor="middle" textLength="3.50" lengthAdjust="spacingAndGlyphs">1</text><rect x="683.7" y="432.5" width="12.4" height="12.5" fill="#5345ae"/><text x="689.95" y="441.34" font-size="7.4" fill="#fff" text-anchor="middle" textLength="3.50" lengthAdjust="spacingAndGlyphs">1</text></svg>
</body></html>
